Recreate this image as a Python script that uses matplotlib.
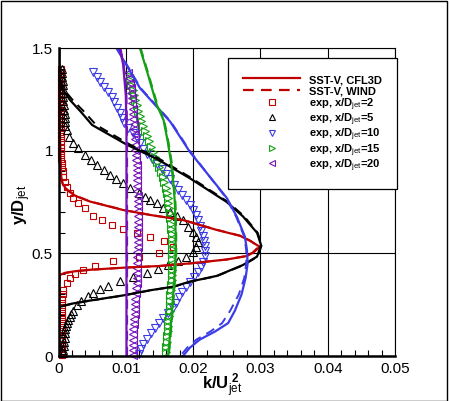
import matplotlib
matplotlib.use("Agg")
import matplotlib.pyplot as plt
from matplotlib.lines import Line2D
from matplotlib.patches import Rectangle
import matplotlib.ticker as tkr

plt.rcParams['font.family'] = ['Liberation Sans', 'DejaVu Sans']
plt.rcParams['mathtext.fontset'] = 'custom'
plt.rcParams['mathtext.rm'] = 'Liberation Sans'
plt.rcParams['mathtext.it'] = 'Liberation Sans:italic'
plt.rcParams['mathtext.bf'] = 'Liberation Sans:bold'

# ---- SST-V, CFL3D / WIND profiles ----
y2_cfd = [1.5, 1.3, 1.1, 0.95, 0.87, 0.84, 0.81, 0.78, 0.752, 0.711, 0.687, 0.662, 0.614, 0.585, 0.56,
          0.532, 0.505, 0.487, 0.47, 0.451, 0.438, 0.43, 0.42, 0.413, 0.405, 0.395, 0.35, 0.0]
x2_cfl3d = [0.0001, 0.0001, 0.0002, 0.0003, 0.0004, 0.0006, 0.0012, 0.0025, 0.0047, 0.0096, 0.0136, 0.0185,
            0.0235, 0.027, 0.0285, 0.0299, 0.029, 0.028, 0.025, 0.0195, 0.0148, 0.0096, 0.0047, 0.0025,
            0.001, 0.0002, 0.0001, 0.0001]
x2_wind = [0.0001, 0.0001, 0.0002, 0.0003, 0.0004, 0.0006, 0.0013, 0.0026, 0.0048, 0.0097, 0.0137, 0.0186,
           0.0236, 0.0271, 0.0286, 0.0297, 0.0289, 0.0279, 0.025, 0.0196, 0.0149, 0.0097, 0.0048, 0.0026,
           0.0011, 0.0002, 0.0001, 0.0001]

y5_cfd = [1.5, 1.42, 1.32, 1.29, 1.247, 1.19, 1.125, 1.03, 0.96, 0.866, 0.75, 0.68, 0.6, 0.54, 0.484,
          0.443, 0.39, 0.362, 0.338, 0.32, 0.295, 0.27, 0.255, 0.24, 0.15, 0.0]
x5_cfl3d = [0.0001, 0.0001, 0.0003, 0.0008, 0.0017, 0.0033, 0.005, 0.0101, 0.0146, 0.0195, 0.025, 0.0274,
            0.0295, 0.0301, 0.0295, 0.0274, 0.0235, 0.0195, 0.0171, 0.0136, 0.0096, 0.0047, 0.002, 0.0002,
            0.0001, 0.0001]
x5_wind = [0.0001, 0.0001, 0.0004, 0.0010, 0.0021, 0.0038, 0.0056, 0.0106, 0.015, 0.0198, 0.0252, 0.0276,
           0.0296, 0.0302, 0.0296, 0.0275, 0.0236, 0.0196, 0.0172, 0.0137, 0.0097, 0.0048, 0.0021, 0.0002,
           0.0001, 0.0001]

y10_cfd = [1.5, 1.305, 1.141, 0.995, 0.77, 0.678, 0.581, 0.516, 0.45, 0.38, 0.3, 0.22, 0.16, 0.12,
           0.08, 0.04, 0.0]
x10_cfl3d = [0.0086, 0.0121, 0.0166, 0.0195, 0.025, 0.0265, 0.0277, 0.028, 0.0281, 0.0278, 0.0272,
             0.0262, 0.0252, 0.0233, 0.021, 0.0195, 0.0185]
x10_wind = [0.0087, 0.0122, 0.0167, 0.0196, 0.0249, 0.0264, 0.0276, 0.0279, 0.0279, 0.0276, 0.0268,
            0.0255, 0.0243, 0.0226, 0.0205, 0.0191, 0.0181]

y15_cfd = [1.5, 1.37, 1.223, 1.15, 1.05, 0.95, 0.833, 0.74, 0.6, 0.5, 0.36, 0.19, 0.0]
x15_cfl3d = [0.0121, 0.0133, 0.0146, 0.0156, 0.0162, 0.0167, 0.0171, 0.0173, 0.0174, 0.0174, 0.0172,
             0.0168, 0.0163]
x15_wind = [0.0122, 0.0134, 0.0147, 0.0157, 0.0163, 0.0168, 0.0172, 0.0174, 0.0175, 0.0175, 0.0173,
            0.0169, 0.0164]

y20_cfd = [1.5, 1.42, 1.27, 1.1, 0.0]
x20_cfl3d = [0.0091, 0.0096, 0.0100, 0.0101, 0.0101]
x20_wind = [0.0092, 0.0097, 0.0101, 0.0102, 0.0102]

# ---- experiment ----
y2_exp = [1.40, 1.38, 1.36, 1.34, 1.32, 1.30, 1.28, 1.26, 1.24, 1.22, 1.20, 1.18, 1.16, 1.14, 1.12, 1.10,
          1.08, 1.06, 1.04, 1.02, 1.0, 0.98, 0.96, 0.94, 0.92, 0.90, 0.873, 0.849, 0.825, 0.792, 0.768,
          0.744, 0.719, 0.68, 0.66, 0.636, 0.617, 0.598, 0.578, 0.558, 0.53, 0.503, 0.484, 0.463, 0.438,
          0.419, 0.40, 0.378, 0.354, 0.32, 0.30, 0.28, 0.26, 0.24, 0.22, 0.20, 0.18, 0.16, 0.14, 0.12,
          0.10, 0.08, 0.06, 0.04, 0.02, 0.005]
x2_exp = [0.0004, 0.0003, 0.0003, 0.0003, 0.0003, 0.0003, 0.0003, 0.0003, 0.0003, 0.0003, 0.0003, 0.0003,
          0.0003, 0.0003, 0.0003, 0.0003, 0.0003, 0.0003, 0.0003, 0.0003, 0.0004, 0.0004, 0.0004, 0.0005,
          0.0005, 0.0006, 0.0007, 0.001, 0.0012, 0.0017, 0.0022, 0.0029, 0.0039, 0.0051, 0.0064, 0.008,
          0.0096, 0.0116, 0.0136, 0.0157, 0.017, 0.015, 0.0119, 0.0081, 0.0054, 0.0037, 0.0025, 0.0017,
          0.0012, 0.0007, 0.0006, 0.0005, 0.0005, 0.0005, 0.0005, 0.0005, 0.0005, 0.0005, 0.0005, 0.0005,
          0.0005, 0.0005, 0.0005, 0.0005, 0.0005, 0.0005]

y5_exp = [1.40, 1.38, 1.36, 1.34, 1.32, 1.30, 1.28, 1.26, 1.24, 1.22, 1.20, 1.18, 1.16, 1.14, 1.12, 1.10,
          1.068, 1.036, 1.012, 0.979, 0.955, 0.93, 0.906, 0.882, 0.862, 0.841, 0.817, 0.795, 0.775, 0.76,
          0.744, 0.72, 0.703, 0.68, 0.662, 0.63, 0.606, 0.581, 0.557, 0.532, 0.508, 0.484, 0.463, 0.443,
          0.422, 0.403, 0.383, 0.365, 0.341, 0.325, 0.305, 0.29, 0.27, 0.25, 0.22, 0.205, 0.19, 0.175,
          0.16, 0.145, 0.13, 0.11, 0.09, 0.07, 0.05, 0.03, 0.015]
x5_exp = [0.0005, 0.0005, 0.0005, 0.0006, 0.0006, 0.0006, 0.0007, 0.0007, 0.0007, 0.0008, 0.0008, 0.0009,
          0.001, 0.001, 0.001, 0.0012, 0.0015, 0.0022, 0.0029, 0.0039, 0.0049, 0.0057, 0.0067, 0.0077,
          0.0086, 0.0096, 0.0106, 0.0119, 0.0128, 0.0136, 0.0146, 0.0156, 0.0166, 0.0176, 0.0185, 0.0193,
          0.02, 0.0205, 0.0208, 0.0205, 0.02, 0.019, 0.0177, 0.0163, 0.0148, 0.0131, 0.0111, 0.0091,
          0.0074, 0.0062, 0.0052, 0.0044, 0.0034, 0.0027, 0.0022, 0.0019, 0.0017, 0.0014, 0.0012, 0.0011,
          0.001, 0.001, 0.0009, 0.0008, 0.0008, 0.0007, 0.0007]

y10_exp = [1.385, 1.36, 1.335, 1.31, 1.285, 1.26, 1.235, 1.21, 1.185, 1.16, 1.135, 1.11, 1.085, 1.06,
           1.035, 1.01, 0.985, 0.96, 0.935, 0.91, 0.885, 0.86, 0.835, 0.81, 0.785, 0.76, 0.735, 0.71,
           0.685, 0.66, 0.635, 0.61, 0.585, 0.56, 0.535, 0.51, 0.485, 0.46, 0.435, 0.41, 0.385, 0.36,
           0.335, 0.31, 0.285, 0.26, 0.235, 0.21, 0.185, 0.16, 0.135, 0.11, 0.085, 0.06, 0.035, 0.01]
x10_exp = [0.0052, 0.0057, 0.0062, 0.0068, 0.0074, 0.0079, 0.0083, 0.0087, 0.0091, 0.0094, 0.0098,
           0.0104, 0.0111, 0.0116, 0.0121, 0.0125, 0.0131, 0.0139, 0.0147, 0.0154, 0.016, 0.0166, 0.0172,
           0.0178, 0.0184, 0.019, 0.0195, 0.02, 0.0204, 0.0207, 0.021, 0.0212, 0.0214, 0.0216, 0.0217,
           0.0218, 0.0217, 0.0215, 0.0211, 0.0207, 0.0201, 0.0196, 0.019, 0.0184, 0.0179, 0.0175, 0.017,
           0.0163, 0.0156, 0.015, 0.0144, 0.0138, 0.0132, 0.0126, 0.0122, 0.0119]

y15_exp = [1.37, 1.345, 1.32, 1.295, 1.27, 1.245, 1.22, 1.195, 1.17, 1.145, 1.12, 1.095, 1.07, 1.045,
           1.02, 0.995, 0.97, 0.945, 0.92, 0.895, 0.87, 0.845, 0.82, 0.795, 0.77, 0.745, 0.72, 0.695,
           0.67, 0.645, 0.62, 0.595, 0.57, 0.545, 0.52, 0.495, 0.47, 0.445, 0.42, 0.395, 0.37, 0.345,
           0.32, 0.295, 0.27, 0.245, 0.22, 0.195, 0.17, 0.145, 0.12, 0.095, 0.07, 0.045, 0.02]
x15_exp = [0.0104, 0.0106, 0.0108, 0.011, 0.0112, 0.0114, 0.0116, 0.0118, 0.0121, 0.0123, 0.0126,
           0.0128, 0.0131, 0.0134, 0.0137, 0.014, 0.0143, 0.0146, 0.0149, 0.0152, 0.0155, 0.0157, 0.0159,
           0.0161, 0.0162, 0.0163, 0.0164, 0.0165, 0.0166, 0.0167, 0.0167, 0.0168, 0.0168, 0.0168, 0.0168,
           0.0168, 0.0168, 0.0168, 0.0168, 0.0168, 0.0168, 0.0167, 0.0167, 0.0166, 0.0166, 0.0165, 0.0165,
           0.0164, 0.0163, 0.0163, 0.0162, 0.0161, 0.0161, 0.016, 0.016]

y20_exp = [1.38, 1.355, 1.33, 1.305, 1.28, 1.255, 1.23, 1.205, 1.18, 1.155, 1.13, 1.105, 1.08, 1.055,
           1.03, 1.005, 0.98, 0.955, 0.93, 0.905, 0.88, 0.855, 0.83, 0.805, 0.78, 0.755, 0.73, 0.705,
           0.68, 0.655, 0.63, 0.605, 0.58, 0.555, 0.53, 0.505, 0.48, 0.455, 0.43, 0.405, 0.38, 0.355,
           0.33, 0.305, 0.28, 0.255, 0.23, 0.205, 0.18, 0.155, 0.13, 0.105, 0.08, 0.055, 0.03, 0.005]
x20_exp = [0.0104, 0.0105, 0.0106, 0.0107, 0.0108, 0.0109, 0.0109, 0.011, 0.0111, 0.0111, 0.0112,
           0.0112, 0.0113, 0.0113, 0.0114, 0.0114, 0.0115, 0.0115, 0.0116, 0.0116, 0.0116, 0.0117, 0.0117,
           0.0117, 0.0118, 0.0118, 0.0118, 0.0118, 0.0118, 0.0118, 0.0118, 0.0118, 0.0118, 0.0118, 0.0118,
           0.0117, 0.0117, 0.0117, 0.0117, 0.0116, 0.0116, 0.0116, 0.0115, 0.0115, 0.0114, 0.0114, 0.0113,
           0.0113, 0.0112, 0.0112, 0.0111, 0.0111, 0.0111, 0.011, 0.011, 0.011]

stations = ["2", "5", "10", "15", "20"]
colors = {"2": "#c00000", "5": "black", "10": "#3c3ce6", "15": "#14a014", "20": "#7414b8"}
markers = {"2": "s", "5": "^", "10": "v", "15": ">", "20": "<"}

cfd = {
  "2": (x2_cfl3d, x2_wind, y2_cfd),
  "5": (x5_cfl3d, x5_wind, y5_cfd),
  "10": (x10_cfl3d, x10_wind, y10_cfd),
  "15": (x15_cfl3d, x15_wind, y15_cfd),
  "20": (x20_cfl3d, x20_wind, y20_cfd),
}
exp = {
  "2": (x2_exp, y2_exp),
  "5": (x5_exp, y5_exp),
  "10": (x10_exp, y10_exp),
  "15": (x15_exp, y15_exp),
  "20": (x20_exp, y20_exp),
}

fig = plt.figure(figsize=(4.5, 4.01), dpi=100)
ax = fig.add_axes([58.5 / 450, 1 - 356 / 401, (395 - 58.5) / 450, (356 - 48) / 401])

ax.grid(True, which='major', color='black', linewidth=0.8)
ax.set_axisbelow(True)

for s in stations:
  xe, ye = exp[s]
  ms = 4.3 if markers[s] == "s" else 5.5
  ax.plot(xe, ye, linestyle='none', marker=markers[s], markersize=ms,
          markerfacecolor='none', markeredgecolor=colors[s], markeredgewidth=0.8, clip_on=False)
for s in stations:
  xc, xw, yc = cfd[s]
  ax.plot(xc, yc, color=colors[s], linewidth=1.6)
  ax.plot(xw, yc, color=colors[s], linewidth=1.4, dashes=(4.8, 3.3))

ax.set_xlim(0, 0.05)
ax.set_ylim(0, 1.5)
ax.xaxis.set_major_locator(tkr.MultipleLocator(0.01))
ax.xaxis.set_minor_locator(tkr.MultipleLocator(0.002))
ax.yaxis.set_major_locator(tkr.MultipleLocator(0.5))
ax.yaxis.set_minor_locator(tkr.MultipleLocator(0.1))
ax.xaxis.set_major_formatter(tkr.FuncFormatter(lambda v, p: "0" if v == 0 else "{:g}".format(round(v, 3))))
ax.yaxis.set_major_formatter(tkr.FuncFormatter(lambda v, p: "{:g}".format(v)))
ax.tick_params(which='both', direction='in', top=False, right=False, labelsize=11, pad=4)
ax.tick_params(which='major', length=0)
ax.tick_params(which='minor', length=4, width=0.8)

for side in ['bottom', 'left']:
  ax.spines[side].set_linewidth(1.8)
for side in ['top', 'right']:
  ax.spines[side].set_linewidth(0.8)

ax.set_xlabel(r'$\mathbf{k/U}_{\mathrm{jet}}^{\ \mathbf{2}}$', fontsize=12)
ax.xaxis.set_label_coords(0.486, -0.05)
ax.set_ylabel(r'$\mathbf{y/D}_{\mathrm{jet}}$', fontsize=12)
ax.yaxis.set_label_coords(-0.075, 0.49)

handles = [
  Line2D([], [], color=colors["2"], linewidth=1.6),
  Line2D([], [], color=colors["2"], linewidth=1.6, dashes=(4.8, 3.3)),
]
labels = ["SST-V, CFL3D", "SST-V, WIND"]
for s in stations:
  ms = 4.3 if markers[s] == "s" else 5
  handles.append(Line2D([], [], linestyle='none', marker=markers[s], markersize=ms,
                        markerfacecolor='none', markeredgecolor=colors[s], markeredgewidth=0.8))
  labels.append(r'exp, x/D$_{\mathrm{jet}}$=' + s)

leg = fig.legend(handles, labels, loc='upper left', bbox_to_anchor=(227.7 / 450, 1 - 58 / 401),
                 prop={'weight': 'bold', 'size': 8}, frameon=True, fancybox=False,
                 edgecolor='black', framealpha=1, handlelength=5.2, handleheight=1.4,
                 handletextpad=0.8, labelspacing=-0.1, borderpad=1.35, borderaxespad=0)
leg.get_frame().set_linewidth(0.9)

fig.add_artist(Rectangle((0.5 / 450, 1 - 400.5 / 401), 446.5 / 450, 400 / 401,
                         transform=fig.transFigure, fill=False, edgecolor='black', linewidth=1))

fig.savefig("out.png", dpi=100)
